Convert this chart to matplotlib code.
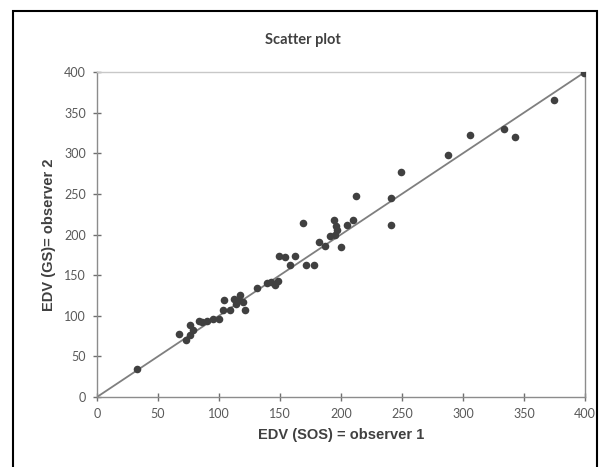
import matplotlib.pyplot as plt
from matplotlib.patches import Rectangle

# =========================
# DATOS
# =========================
obs1 = [33, 67, 73, 76, 76, 79, 84, 86, 90, 95, 100, 103, 104, 109, 112, 116, 117,
        114, 120, 121, 131, 139, 143, 146, 148, 149, 154, 158, 162, 169, 171, 178,
        182, 187, 191, 194, 196, 195, 197, 200, 205, 210, 212, 241, 241, 249, 288,
        306, 334, 343, 375, 399]
obs2 = [34, 78, 70, 89, 76, 82, 93, 92, 94, 96, 96, 107, 120, 107, 121, 119, 125,
        115, 117, 107, 134, 140, 141, 138, 143, 173, 172, 162, 174, 214, 162, 163,
        191, 186, 198, 218, 210, 199, 205, 185, 212, 218, 247, 245, 212, 277, 298,
        323, 330, 320, 365, 399]

ticks = [0, 50, 100, 150, 200, 250, 300, 350, 400]

# =========================
# FIGURA
# =========================
fig = plt.figure(figsize=(6.05, 4.67), dpi=100)
fig.patches.append(Rectangle((13 / 605, -0.05), 584 / 605, 1.05 - 11 / 467,
                             transform=fig.transFigure, fill=False,
                             edgecolor="black", linewidth=1.5))

ax = fig.add_axes([97 / 605, 1 - 397 / 467, 488 / 605, 325 / 467])

ax.plot([0, 400], [0, 400], color="#7f7f7f", linewidth=1.3, zorder=2)
ax.scatter(obs1, obs2, s=30, color="#404040", zorder=3, linewidths=0)

ax.set_xlim(0, 400)
ax.set_ylim(0, 400)
ax.set_xticks(ticks)
ax.set_yticks(ticks)

for s in ax.spines.values():
    s.set_color("#8c8c8c")
    s.set_linewidth(1)
ax.spines["top"].set_color("#c8c8c8")

ax.tick_params(direction="inout", length=6, width=1, color="#6f6f6f",
               labelcolor="#595959", labelsize=9, pad=5)
for lbl in ax.get_xticklabels() + ax.get_yticklabels():
    lbl.set_family("Lato")

ax.set_xlabel("EDV (SOS) = observer 1", fontsize=10.5, fontweight="bold",
              color="#404040", family="Liberation Sans", labelpad=6)
ax.set_ylabel("EDV (GS)= observer 2", fontsize=10.5, fontweight="bold",
              color="#404040", family="Liberation Sans", labelpad=6)

fig.text(0.5, 1 - 40 / 467, "Scatter plot", ha="center", va="center",
         fontsize=10.5, fontweight="bold", color="#404040", family="Lato")

plt.savefig("out.png", dpi=100)
plt.close()
